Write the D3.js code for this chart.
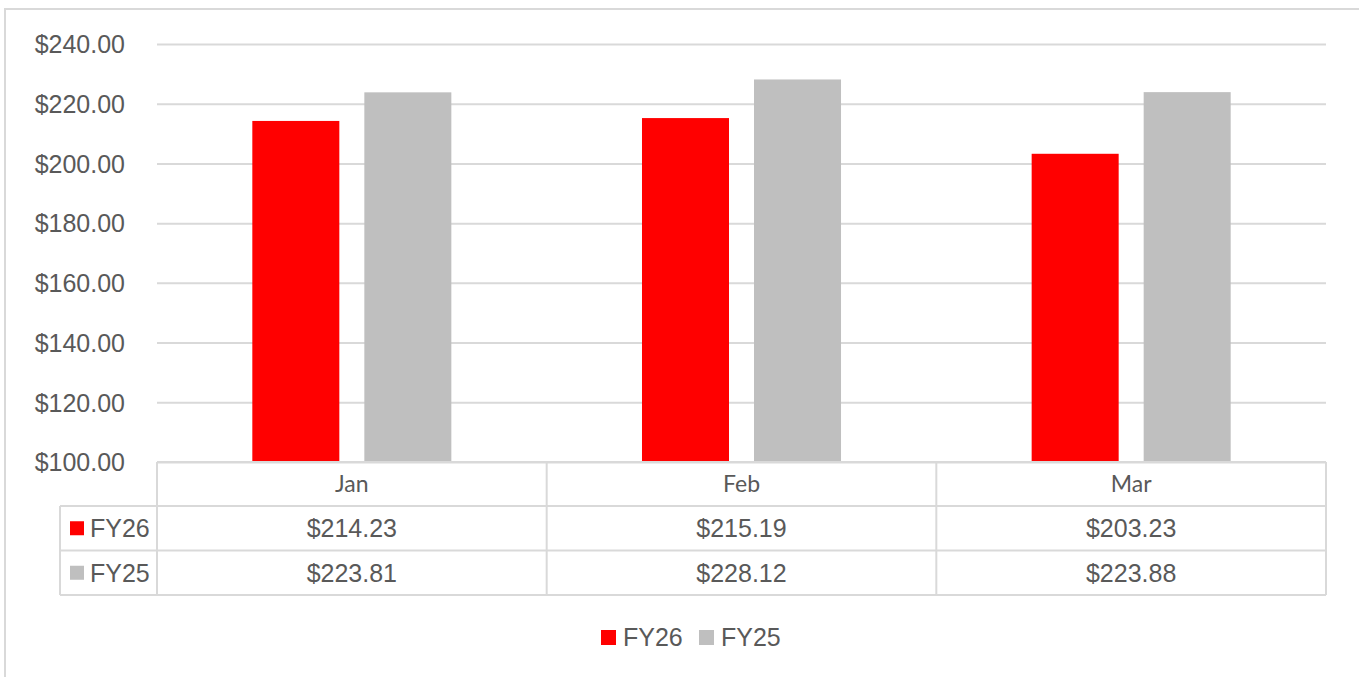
<!DOCTYPE html>
<html>
<head>
<meta charset="utf-8">
<script src="https://cdn.jsdelivr.net/npm/d3@7"></script>
<style>
  body { margin: 0; background: #fff; }
  svg { display: block; }
  .tick-label { font-family: "Liberation Sans", Arial, sans-serif; font-size: 25px; fill: #595959; }
  .cat-label { font-family: Lato, sans-serif; font-size: 23px; fill: #595959; }
  .val-label { font-family: "Liberation Sans", Arial, sans-serif; font-size: 25px; fill: #595959; }
</style>
</head>
<body>
<svg id="chart" width="1359" height="677"></svg>
<script>
// Data
const months = ['Jan', 'Feb', 'Mar'];
const seriesNames = ['FY26', 'FY25'];
const fy26 = [214.23, 215.19, 203.23];
const fy25 = [223.81, 228.12, 223.88];
const yTicks = [100, 120, 140, 160, 180, 200, 220, 240];
const seriesColors = ['#ff0000', '#bfbfbf'];

const seriesValues = [fy26, fy25];
const rows = months.map((m, i) => ({ month: m, values: seriesValues.map(s => s[i]) }));

const svg = d3.select('#chart');
const gridColor = '#d9d9d9';
const fmt = d3.format('$,.2f');

// Plot area
const plot = { left: 157, right: 1326, top: 44, bottom: 462 };

// Outer chart border (extends past right/bottom edges)
svg.append('rect')
    .attr('x', 5).attr('y', 9)
    .attr('width', 1400).attr('height', 700)
    .attr('fill', 'none')
    .attr('stroke', gridColor)
    .attr('stroke-width', 2);

// Scales
const y = d3.scaleLinear()
    .domain([100, 240])
    .range([plot.bottom, plot.top]);

const x0 = d3.scaleBand()
    .domain(months)
    .range([plot.left, plot.right])
    .padding(0);

const x1 = d3.scaleBand()
    .domain(seriesNames)
    .range([0, x0.bandwidth()])
    .paddingInner(0.2232)
    .paddingOuter(0.851);

// Gridlines
const yAxis = svg.append('g')
    .attr('transform', `translate(${plot.left},0)`)
    .call(d3.axisLeft(y)
        .tickValues(yTicks)
        .tickSize(-(plot.right - plot.left))
        .tickFormat(fmt));

yAxis.select('.domain').remove();
yAxis.selectAll('.tick line')
    .attr('stroke', gridColor)
    .attr('stroke-width', 2);
yAxis.selectAll('.tick text')
    .attr('class', 'tick-label')
    .attr('x', -32)
    .attr('dy', '0.35em');

// Bars
const groups = svg.append('g')
    .selectAll('g')
    .data(rows)
    .enter()
    .append('g')
    .attr('transform', d => `translate(${x0(d.month)},0)`);

groups.selectAll('rect')
    .data(d => d.values.map((v, i) => ({ key: seriesNames[i], value: v, color: seriesColors[i] })))
    .enter()
    .append('rect')
    .attr('x', d => x1(d.key))
    .attr('width', x1.bandwidth())
    .attr('y', d => y(d.value))
    .attr('height', d => y(100) - y(d.value))
    .attr('fill', d => d.color);

// Data table
const table = svg.append('g');
const rowH = [plot.bottom, 506, 550.5, 595];
const legendColLeft = 60;

const line = (x1p, y1p, x2p, y2p) => table.append('line')
    .attr('x1', x1p).attr('y1', y1p).attr('x2', x2p).attr('y2', y2p)
    .attr('stroke', gridColor).attr('stroke-width', 2);

// horizontal lines
line(plot.left, rowH[0], plot.right, rowH[0]);
line(legendColLeft, rowH[1], plot.right, rowH[1]);
line(legendColLeft, rowH[2], plot.right, rowH[2]);
line(legendColLeft, rowH[3], plot.right, rowH[3]);
// vertical lines
line(legendColLeft, rowH[1], legendColLeft, rowH[3]);
months.forEach(m => line(x0(m), rowH[0], x0(m), rowH[3]));
line(plot.right, rowH[0], plot.right, rowH[3]);

// header labels
table.selectAll('.cat-label')
    .data(months)
    .enter()
    .append('text')
    .attr('class', 'cat-label')
    .attr('x', d => x0(d) + x0.bandwidth() / 2)
    .attr('y', (rowH[0] + rowH[1]) / 2)
    .attr('dy', '0.35em')
    .attr('text-anchor', 'middle')
    .text(d => d);

// value rows
seriesNames.forEach((name, si) => {
    const cy = (rowH[si + 1] + rowH[si + 2]) / 2;
    table.append('rect')
        .attr('x', 70).attr('y', cy - 7)
        .attr('width', 14).attr('height', 14)
        .attr('fill', seriesColors[si]);
    table.append('text')
        .attr('class', 'val-label')
        .attr('x', 90).attr('y', cy)
        .attr('dy', '0.35em')
        .text(name);
    table.selectAll(`.val-${si}`)
        .data(seriesValues[si])
        .enter()
        .append('text')
        .attr('class', 'val-label')
        .attr('x', (d, i) => x0(months[i]) + x0.bandwidth() / 2)
        .attr('y', cy)
        .attr('dy', '0.35em')
        .attr('text-anchor', 'middle')
        .text(d => fmt(d));
});

// Bottom legend
const legend = svg.append('g').attr('transform', 'translate(601,637)');
const legendX = [0, 98];
seriesNames.forEach((name, i) => {
    legend.append('rect')
        .attr('x', legendX[i]).attr('y', -7)
        .attr('width', 15).attr('height', 15)
        .attr('fill', seriesColors[i]);
    legend.append('text')
        .attr('class', 'val-label')
        .attr('x', legendX[i] + 22).attr('y', 0)
        .attr('dy', '0.35em')
        .text(name);
});
</script>
</body>
</html>
